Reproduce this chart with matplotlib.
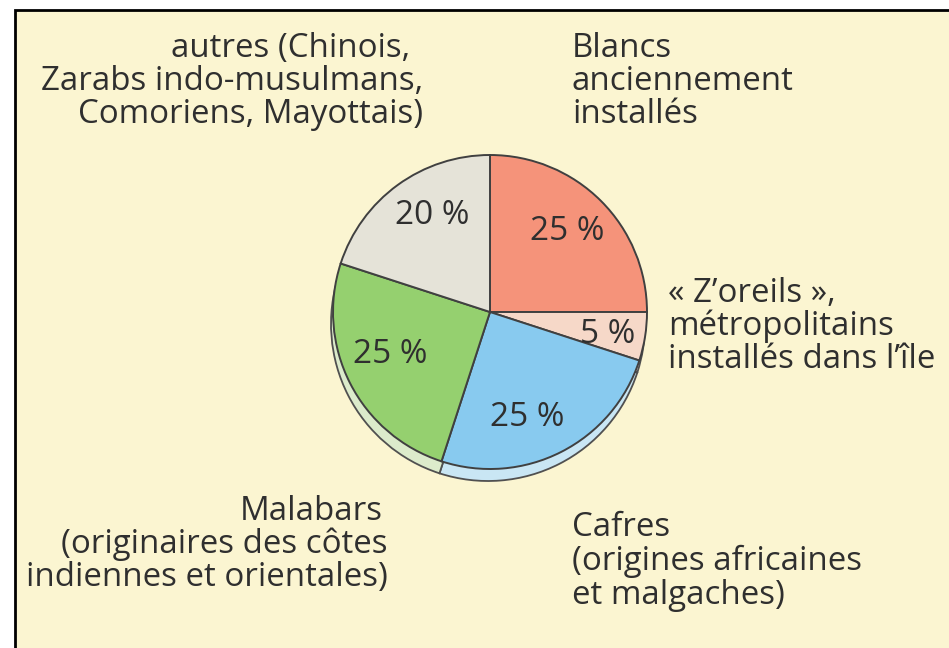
import numpy as np
import matplotlib.pyplot as plt
from matplotlib.patches import Rectangle

# data
groupes = ["Blancs", "Z'oreils", "Cafres", "Malabars", "autres"]
parts = [25, 5, 25, 25, 20]
pct_txt = ["25 %", "5 %", "25 %", "25 %", "20 %"]
couleurs = ["#f5937a", "#f6d8c8", "#88caef", "#95d06f", "#e5e3d8"]
couleurs_bord = ["#f8c9b8", "#f7e3d6", "#c9e6f4", "#dcebcb", "#efeee6"]

# libellés, ligne par ligne
lib_blancs = ["Blancs", "anciennement", "installés"]
lib_zoreils = ["« Z’oreils »,", "métropolitains", "installés dans l’île"]
lib_cafres = ["Cafres", "(origines africaines", "et malgaches)"]
lib_malabars = ["Malabars", "(originaires des côtes", "indiennes et orientales)"]
lib_autres = ["autres (Chinois,", "Zarabs indo-musulmans,", "Comoriens, Mayottais)"]

W, H = 949, 648
fig = plt.figure(figsize=(W/100, H/100), dpi=100, facecolor="white")
ax = fig.add_axes([0, 0, 1, 1])

fond = "#fbf5d1"
ax.add_patch(Rectangle((15, -20), W, H - 10 + 20, facecolor=fond,
                       edgecolor="black", linewidth=2, zorder=0))

cx, cy, r = 490, H - 312, 157
ink = "#2f2f2f"

# épaisseur du disque (bord inférieur)
ax.pie(parts, colors=couleurs_bord, startangle=90, counterclock=False,
       center=(cx - 2, cy - 12), radius=r,
       wedgeprops=dict(edgecolor="#505050", linewidth=1.3), frame=True)
wedges, _ = ax.pie(parts, colors=couleurs, startangle=90, counterclock=False,
                   center=(cx, cy), radius=r,
                   wedgeprops=dict(edgecolor="#404040", linewidth=1.4), frame=True)
ax.set_xlim(0, W)
ax.set_ylim(0, H)
ax.set_aspect("equal")
ax.axis("off")

# position des pourcentages : distance au centre et décalage angulaire
dist = [0.71, 0.76, 0.71, 0.69, 0.72]
decal = [1, -2, -7.5, -4, -5]
for w, t, d, da in zip(wedges, pct_txt, dist, decal):
    a = np.deg2rad((w.theta1 + w.theta2) / 2 + da)
    ax.text(cx + d*r*np.cos(a), cy + d*r*np.sin(a), t, ha="center", va="center",
            fontsize=24, color=ink, family="Open Sans")

fs = 23.8
def bloc(lignes, x, y0, ha, dy=33, xs=None):
    for i, l in enumerate(lignes):
        xx = x if xs is None else xs[i]
        ax.text(xx, H - (y0 + i*dy), l, ha=ha, va="baseline", fontsize=fs,
                color=ink, family="Open Sans")

bloc(lib_autres, 423, 57, "right", xs=[410, 423, 423])
bloc(lib_blancs, 572, 57, "left")
bloc(lib_zoreils, 668, 302, "left")
bloc(lib_malabars, 388, 520, "right", xs=[383, 388, 388])
bloc(lib_cafres, 572, 536, "left", dy=34)

fig.savefig("out.png", dpi=100, facecolor="white")
